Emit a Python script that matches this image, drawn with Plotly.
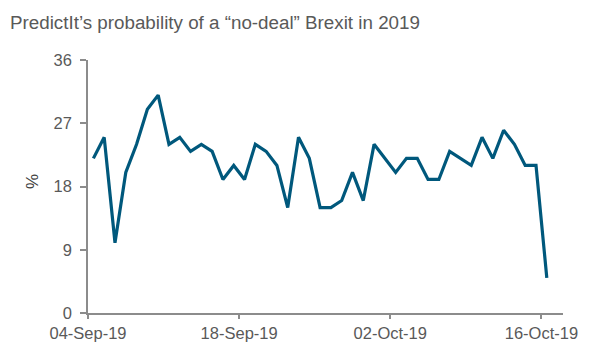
import pandas as pd
import plotly.graph_objects as go

# Daily PredictIt price (in %) for a no-deal Brexit in 2019
start_date = "2019-09-04"
probability = [22, 25, 10, 20, 24, 29, 31, 24, 25, 23, 24, 23, 19, 21, 19,
               24, 23, 21, 15, 25, 22, 15, 15, 16, 20, 16, 24, 22, 20, 22,
               22, 19, 19, 23, 22, 21, 25, 22, 26, 24, 21, 21, 5]
y_ticks = [0, 9, 18, 27, 36]
x_tick_dates = ["2019-09-04", "2019-09-18", "2019-10-02", "2019-10-16"]
x_tick_labels = ["04-Sep-19", "18-Sep-19", "02-Oct-19", "16-Oct-19"]

# each daily value is plotted in the middle of its day
days = pd.date_range(start_date, periods=len(probability), freq="D") + pd.Timedelta(hours=12)

W, H = 592, 342
L, R, T, B = 88, 29, 60, 29
grey_text = "#595959"
axis_grey = "#8c8c8c"
font = "Liberation Sans, Arial, sans-serif"

fig = go.Figure(go.Scatter(
    x=days, y=probability, mode="lines",
    line=dict(color="#00587C", width=3.2),
    hoverinfo="x+y",
))

fig.update_layout(
    width=W, height=H,
    margin=dict(l=L, r=R, t=T, b=B, pad=0, autoexpand=False),
    paper_bgcolor="white", plot_bgcolor="white",
    showlegend=False,
    font=dict(family=font, color=grey_text, size=16.5),
    title=dict(
        text="PredictIt’s probability of a “no-deal” Brexit in 2019",
        xref="container", yref="container",
        x=10 / W, xanchor="left",
        y=1 - 22 / H, yanchor="middle",
        font=dict(family=font, size=18.8, color=grey_text),
    ),
)

fig.update_xaxes(
    type="date",
    range=["2019-09-04", "2019-10-18"],
    tickvals=x_tick_dates, ticktext=x_tick_labels,
    showgrid=False, zeroline=False, automargin=False,
    showline=True, linecolor=axis_grey, linewidth=1.5,
    ticks="outside", ticklen=4, tickwidth=1.5, tickcolor=axis_grey,
    tickfont=dict(size=16.5, color=grey_text),
)
fig.update_yaxes(
    range=[0, 36], tickvals=y_ticks,
    showgrid=False, zeroline=False, automargin=False,
    showline=True, linecolor=axis_grey, linewidth=1.5,
    ticks="outside", ticklen=6, tickwidth=1.5, tickcolor=axis_grey,
    ticklabelstandoff=5,
    tickfont=dict(size=16.5, color=grey_text),
)

fig.add_annotation(
    text="%", textangle=-90,
    xref="paper", yref="paper",
    x=(32 - L) / (W - L - R), y=1 - (182 - T) / (H - T - B),
    xanchor="center", yanchor="middle",
    showarrow=False, font=dict(size=17, color="#404040"),
)

fig.write_html("out.html")
